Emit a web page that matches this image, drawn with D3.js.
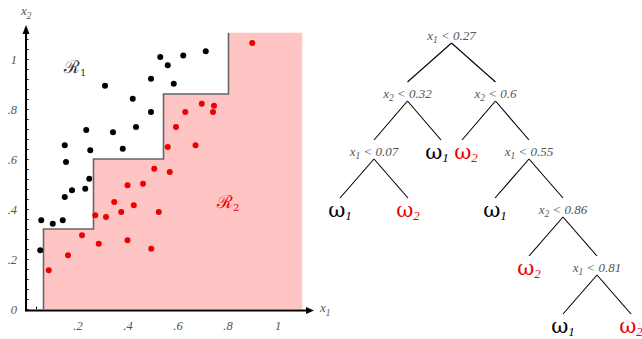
<!DOCTYPE html>
<html>
<head>
<meta charset="utf-8">
<script src="https://cdn.jsdelivr.net/npm/d3@7"></script>
<style>
  html, body { margin: 0; padding: 0; background: #fff; }
  svg { display: block; }
  .lbl { font-family: "Liberation Serif", "DejaVu Serif", serif; font-style: italic; fill: #555; }
</style>
</head>
<body>
<svg id="chart" width="642" height="339"></svg>
<script>
// Training samples of class ω1 (black) and ω2 (red), as [x1, x2]
const class1Points = [
  [0.057, 0.235], [0.061, 0.355], [0.107, 0.341], [0.147, 0.355], [0.155, 0.448],
  [0.160, 0.588], [0.155, 0.655], [0.184, 0.475], [0.237, 0.481], [0.241, 0.716],
  [0.253, 0.521], [0.257, 0.635], [0.316, 0.893], [0.348, 0.707], [0.387, 0.641],
  [0.427, 0.841], [0.440, 0.728], [0.500, 0.921], [0.500, 0.788], [0.537, 1.008],
  [0.567, 0.975], [0.591, 0.901], [0.629, 1.014], [0.719, 1.031]
];
const class2Points = [
  [0.091, 0.155], [0.168, 0.215], [0.224, 0.295], [0.277, 0.375], [0.291, 0.261],
  [0.320, 0.368], [0.353, 0.428], [0.381, 0.388], [0.406, 0.495], [0.406, 0.275],
  [0.431, 0.415], [0.468, 0.501], [0.501, 0.241], [0.513, 0.561], [0.531, 0.388],
  [0.567, 0.648], [0.575, 0.548], [0.600, 0.728], [0.637, 0.788], [0.678, 0.655],
  [0.703, 0.821], [0.748, 0.788], [0.752, 0.813], [0.905, 1.064]
];
// Staircase boundary of region R2 (corners, from bottom-left to top)
const boundaryX1 = [0.07, 0.07, 0.27, 0.27, 0.55, 0.55, 0.81, 0.81];
const boundaryX2 = [0.00, 0.32, 0.32, 0.60, 0.60, 0.86, 0.86, 1.105];
const axisMax = 1.105;
const tickLabels = [0.2, 0.4, 0.6, 0.8, 1];
const minorTicks = d3.range(0, 1.09, 0.04);

// Decision tree: [feature index, threshold, left subtree, right subtree]; leaves are class numbers
const decisionTree =
  [1, "0.27",
    [2, "0.32",
      [1, "0.07", 1, 2],
      1],
    [2, "0.6",
      2,
      [1, "0.55",
        1,
        [2, "0.86",
          2,
          [1, "0.81", 1, 2]]]]];

const svg = d3.select("#chart");
const RED = "#ee0000";

// ---------- scatter plot with partitioned regions ----------
const x = d3.scaleLinear().domain([0, 1]).range([26, 276]);
const y = d3.scaleLinear().domain([0, 1]).range([309, 59]);

// minor ticks (drawn first so the shaded region covers them)
svg.append("g").attr("transform", `translate(${x(0)},0)`)
  .call(d3.axisLeft(y).tickValues(minorTicks).tickSize(-2.5).tickFormat(""))
  .call(g => g.select(".domain").remove())
  .selectAll("line").attr("stroke", "#000").attr("stroke-width", 1);
svg.append("g").attr("transform", `translate(0,${y(0)})`)
  .call(d3.axisBottom(x).tickValues(minorTicks).tickSize(-2.5).tickFormat(""))
  .call(g => g.select(".domain").remove())
  .selectAll("line").attr("stroke", "#000").attr("stroke-width", 1);

// region R2
const corners = boundaryX1.map((v, i) => [v, boundaryX2[i]]);
const regionPoly = corners.concat([[axisMax, axisMax], [axisMax, 0]]);
svg.append("path")
  .attr("d", d3.line().x(d => x(d[0])).y(d => y(d[1]))(regionPoly) + "Z")
  .attr("fill", "#ffc4c4");
svg.append("path")
  .attr("d", d3.line().x(d => x(d[0])).y(d => y(d[1]))(corners))
  .attr("fill", "none").attr("stroke", "#666").attr("stroke-width", 1.6);

// main axes with arrowheads
const axisG = svg.append("g");
axisG.append("line").attr("x1", x(0)).attr("x2", 306).attr("y1", y(0) + 1.5).attr("y2", y(0) + 1.5)
  .attr("stroke", "#000").attr("stroke-width", 2);
axisG.append("path").attr("d", `M306,${y(0) - 2}L314,${y(0) + 1.5}L306,${y(0) + 5}Z`).attr("fill", "#000");
axisG.append("line").attr("x1", x(0)).attr("x2", x(0)).attr("y1", y(0) + 2.5).attr("y2", 33)
  .attr("stroke", "#000").attr("stroke-width", 2);
axisG.append("path").attr("d", `M${x(0) - 3.5},34L${x(0)},25L${x(0) + 3.5},34Z`).attr("fill", "#000");

const fmt = v => v === 1 ? "1" : "." + Math.round(v * 10);
svg.append("g").selectAll("text").data(tickLabels).join("text")
  .attr("class", "lbl").attr("font-size", 12.5)
  .attr("x", d => x(d) + 2).attr("y", y(0) + 21).attr("text-anchor", "middle")
  .text(fmt);
svg.append("g").selectAll("text").data([0].concat(tickLabels)).join("text")
  .attr("class", "lbl").attr("font-size", 12.5)
  .attr("x", 17).attr("y", d => y(d) + 5).attr("text-anchor", "end")
  .text(d => d === 0 ? "0" : fmt(d));

// axis titles
function subLabel(sel, base, sub, size) {
  sel.append("tspan").text(base);
  sel.append("tspan").attr("dy", size * 0.3).attr("font-size", size * 0.72).text(sub);
}
svg.append("text").attr("class", "lbl").attr("font-size", 13).attr("x", 21).attr("y", 15)
  .call(subLabel, "x", "2", 13);
svg.append("text").attr("class", "lbl").attr("font-size", 13).attr("x", 320).attr("y", 312)
  .call(subLabel, "x", "1", 13);

// region names
function regionLabel(px, py, sub, color) {
  const t = svg.append("text").attr("x", px).attr("y", py)
    .attr("font-family", "'DejaVu Serif', serif").attr("fill", color).attr("font-size", 18);
  t.append("tspan").text("\u211B");
  t.append("tspan").attr("dy", 3).attr("font-size", 10).text(sub);
}
regionLabel(64, 73, "1", "#333");
regionLabel(217, 208, "2", RED);

// samples
svg.append("g").selectAll("circle").data(class1Points).join("circle")
  .attr("cx", d => x(d[0])).attr("cy", d => y(d[1])).attr("r", 3).attr("fill", "#000");
svg.append("g").selectAll("circle").data(class2Points).join("circle")
  .attr("cx", d => x(d[0])).attr("cy", d => y(d[1])).attr("r", 3).attr("fill", RED);

// ---------- decision tree ----------
const levelY = d3.scaleLinear().domain([0, 1]).range([36, 94]);
const spreadByDepth = [44, 33.5, 34, 34, 34];
const nodes = [], links = [];
(function place(node, px, depth) {
  const item = { node, x: px, y: levelY(depth), depth, leaf: !Array.isArray(node) };
  nodes.push(item);
  if (!item.leaf) {
    const s = spreadByDepth[depth];
    [[node[2], px - s], [node[3], px + s]].forEach(([child, cx]) => {
      const c = place(child, cx, depth + 1);
      links.push({ source: item, target: c });
    });
  }
  return item;
})(decisionTree, 451.5, 0);

const tree = svg.append("g");
tree.selectAll("line").data(links).join("line")
  .attr("x1", d => d.source.x).attr("y1", d => d.source.y + 7)
  .attr("x2", d => d.target.x).attr("y2", d => d.target.y - 12)
  .attr("stroke", "#000").attr("stroke-width", 1.1);

// split conditions
tree.selectAll("text.cond").data(nodes.filter(d => !d.leaf)).join("text")
  .attr("class", "lbl cond").attr("font-size", 13).attr("fill", "#444")
  .attr("x", d => d.x).attr("y", d => d.y + 4).attr("text-anchor", "middle")
  .each(function (d) {
    const t = d3.select(this);
    t.append("tspan").text("x");
    t.append("tspan").attr("dy", 3).attr("font-size", 9.5).text(d.node[0]);
    t.append("tspan").attr("dy", -3).text(" < " + d.node[1]);
  });

// class labels at the leaves, nudged apart where two sit side by side
const leaves = nodes.filter(d => d.leaf).map(d => ({ ...d, lx: d.x }));
const minGap = 29;
leaves.forEach(a => leaves.forEach(b => {
  if (a !== b && a.depth === b.depth && a.x < b.x && b.x - a.x < minGap) {
    const push = (minGap - (b.x - a.x)) / 2;
    a.lx -= push; b.lx += push;
  }
}));
tree.selectAll("text.leaf").data(leaves).join("text")
  .attr("class", "leaf")
  .attr("font-family", "'DejaVu Serif', serif")
  .attr("font-size", 21)
  .attr("fill", d => d.node === 2 ? RED : "#000")
  .attr("x", d => d.lx).attr("y", d => d.y + 7).attr("text-anchor", "middle")
  .each(function (d) {
    const t = d3.select(this);
    t.append("tspan").text("\u03C9");
    t.append("tspan").attr("dy", 3).attr("font-size", 13).attr("font-style", "italic")
      .attr("font-family", "'Liberation Serif', serif").text(d.node);
  });
</script>
</body>
</html>
